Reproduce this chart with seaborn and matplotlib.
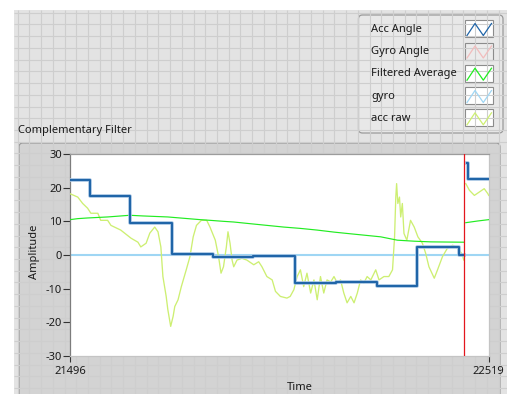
import numpy as np
import pandas as pd
import matplotlib
matplotlib.use("Agg")
import matplotlib.pyplot as plt
import matplotlib.patheffects as pe
from matplotlib.patches import Rectangle, FancyBboxPatch
import seaborn as sns

plt.rcParams["font.family"] = ["Noto Sans", "DejaVu Sans"]

# ---- chart data -------------------------------------------------------------
t_start, t_end = 21496, 22519
sweep_t = 22459          # sweep line: data to its right is from the previous pass

series_names = ["Acc Angle", "Gyro Angle", "Filtered Average", "gyro", "acc raw"]
series_colors = ["#2065a8", "#f2bcbc", "#22ec22", "#9fd6f4", "#cdef72"]
series_visible = [True, False, True, True, True]

y_ticks = [-30, -20, -10, 0, 10, 20, 30]
x_ticks = [t_start, t_end]

# Acc Angle (held value, stepped)
acc_angle_t = [21496, 21544, 21642, 21745, 21846, 21944, 22045, 22145, 22245, 22345,
               22446, 22459]
acc_angle_v = [22.3, 17.6, 9.6, 0.4, -0.5, -0.2, -8.4, -8.1, -9.2, 2.3,
               0.0, 0.0]
acc_angle_old_t = [22465, 22469, 22519]
acc_angle_old_v = [27.2, 22.5, 22.5]

# Filtered Average
filt_t = [21496, 21515, 21539, 21588, 21642, 21674, 21735, 21814, 21838, 21871,
          21896, 21928, 21977, 22018, 22059, 22100, 22141, 22173, 22214, 22255,
          22296, 22337, 22378, 22458]
filt_v = [10.5, 10.8, 11.0, 11.3, 11.8, 11.6, 11.3, 10.5, 10.3, 10.0,
          9.8, 9.4, 8.8, 8.3, 7.9, 7.4, 6.8, 6.4, 5.9, 5.4,
          4.4, 4.1, 3.9, 3.8]
filt_old_t = [22463, 22492, 22519]
filt_old_v = [9.6, 10.1, 10.5]

# gyro
gyro_t = [21496, 22519]
gyro_v = [0.0, 0.0]

# acc raw
acc_raw_t = [21496, 21515, 21527, 21539, 21547, 21564, 21571, 21588, 21596, 21620,
             21645, 21662, 21669, 21682, 21691, 21703, 21711, 21718, 21723, 21731,
             21735, 21742, 21748, 21752, 21760, 21768, 21780, 21789, 21797, 21805,
             21817, 21830, 21838, 21851, 21859, 21865, 21871, 21878, 21882, 21887,
             21892, 21896, 21904, 21916, 21928, 21945, 21957, 21965, 21977, 21990,
             21998, 22010, 22026, 22034, 22043, 22051, 22059, 22067, 22075, 22084,
             22092, 22100, 22108, 22116, 22124, 22133, 22141, 22149, 22157, 22165,
             22173, 22182, 22190, 22198, 22206, 22214, 22222, 22231, 22243, 22251,
             22263, 22275, 22284, 22289, 22292, 22294, 22297, 22301, 22304, 22308,
             22312, 22319, 22328, 22337, 22346, 22357, 22365, 22373, 22386, 22394,
             22406, 22418, 22431, 22439, 22447, 22455, 22458]
acc_raw_v = [18.2, 17.2, 15.3, 13.9, 12.4, 12.4, 10.3, 10.3, 8.8, 7.4,
             5.0, 3.8, 2.4, 3.5, 6.5, 8.3, 6.9, 2.4, -6.4, -12.3,
             -16.2, -21.2, -18.2, -15.3, -13.3, -9.4, -4.4, -0.5, 5.4, 8.8,
             10.3, 10.3, 8.3, 4.4, -0.5, -5.4, -3.5, 2.4, 6.9, 3.5,
             -1.5, -3.5, -1.5, -1.0, -1.5, -2.9, -2.0, -3.5, -6.4, -7.4,
             -10.8, -12.3, -12.8, -12.3, -10.3, -6.4, -4.4, -9.4, -5.4, -11.3,
             -7.4, -13.3, -6.4, -11.3, -7.4, -8.0, -6.4, -8.3, -7.4, -11.3,
             -14.2, -12.3, -14.2, -11.3, -7.4, -8.3, -6.4, -7.4, -4.4, -7.4,
             -6.4, -6.4, -4.4, 5.4, 17.2, 21.2, 15.3, 17.2, 11.3, 15.3,
             6.4, 4.4, 10.3, 8.3, 5.4, 3.5, 0.5, -3.5, -6.9, -4.4,
             -0.5, 2.0, 2.9, 2.4, 1.5, 0.0, -1.5]
acc_raw_old_t = [22463, 22472, 22484, 22496, 22508, 22517, 22519]
acc_raw_old_v = [21.2, 19.2, 17.7, 18.7, 19.7, 18.2, 17.7]


def frame(t_new, v_new, t_old=(), v_old=()):
    return pd.DataFrame({
        "t": list(t_new) + list(t_old),
        "v": list(v_new) + list(v_old),
        "seg": [0] * len(t_new) + [1] * len(t_old),
    })


# ---- figure layout (pixel coordinates on a full-figure layer) ---------------
W, H = 507, 394
FS = 8
TXT = "#1a1a1a"
fig = plt.figure(figsize=(W / 100, H / 100), dpi=100)
fig.patch.set_facecolor("white")

bg = fig.add_axes([0, 0, 1, 1], zorder=0)
bg.set_xlim(0, W)
bg.set_ylim(H, 0)
bg.axis("off")

# gridded front-panel background
bg.add_patch(Rectangle((14, 10), W - 14, H - 10, facecolor="#e3e3e3", edgecolor="none"))
bg.vlines(np.arange(17.6, W, 11.73), 10, H, color="#cecece", lw=0.8)
bg.hlines(np.arange(12.7, H, 11.73), 14, W, color="#cecece", lw=0.8)

# chart panel
bg.add_patch(FancyBboxPatch((19, 143), 481, 270, boxstyle="round,pad=0,rounding_size=4",
                            facecolor="#d3d3d3", edgecolor="#9a9a9a", lw=0.9))
bg.text(18, 131, "Complementary Filter", fontsize=FS, color=TXT, va="center", ha="left")

# plot legend box
bg.add_patch(FancyBboxPatch((358.5, 15), 144.5, 118, boxstyle="round,pad=0,rounding_size=4",
                            facecolor="#e8e8e8", edgecolor="#9a9a9a", lw=0.9))
row_y = [29, 51.5, 73.7, 96, 118.3]
for name, col, vis, y in zip(series_names, series_colors, series_visible, row_y):
    bg.text(371, y, name, fontsize=FS, color=TXT, va="center", ha="left")
    bg.add_patch(Rectangle((465, y - 9), 28, 17, facecolor="white" if vis else "#ececec",
                           edgecolor="#8c8c8c", lw=0.8))
    bg.plot([467, 475, 483.3, 491.5], [y + 6.5, y - 5.5, y + 6.5, y - 5.5], color=col, lw=0.9)

# axis titles
bg.text(300, 387, "Time", fontsize=FS, color=TXT, ha="center", va="center")
bg.text(34, 252, "Amplitude", fontsize=FS, color=TXT, ha="center", va="center",
        rotation=90)

# ---- plot area ---------------------------------------------------------------
ax = fig.add_axes([70 / W, 1 - 356 / H, (488.7 - 70) / W, (356 - 154) / H], zorder=2)
ax.set_facecolor("white")

sns.lineplot(data=frame(gyro_t, gyro_v), x="t", y="v", units="seg", estimator=None,
             sort=False, color=series_colors[3], lw=1.5, ax=ax, legend=False, zorder=2)
sns.lineplot(data=frame(acc_raw_t, acc_raw_v, acc_raw_old_t, acc_raw_old_v), x="t", y="v",
             units="seg", estimator=None, sort=False, color=series_colors[4], lw=0.95,
             ax=ax, legend=False, zorder=3)
sns.lineplot(data=frame(filt_t, filt_v, filt_old_t, filt_old_v), x="t", y="v",
             units="seg", estimator=None, sort=False, color=series_colors[2], lw=0.85,
             ax=ax, legend=False, zorder=4)
sns.lineplot(data=frame(acc_angle_t, acc_angle_v, acc_angle_old_t, acc_angle_old_v),
             x="t", y="v", units="seg", estimator=None, sort=False,
             color=series_colors[0], lw=1.5, drawstyle="steps-post",
             ax=ax, legend=False, zorder=5,
             path_effects=[pe.Stroke(linewidth=2.6, foreground="#a9c6e4"), pe.Normal()])

ax.axvline(sweep_t, color="#e3161d", lw=0.9, zorder=6)

ax.set_xlim(t_start, t_end)
ax.set_ylim(-30, 30)
ax.set_xticks(x_ticks)
ax.set_xticklabels([str(v) for v in x_ticks])
ax.set_yticks(y_ticks)
ax.set_yticklabels([str(v) for v in y_ticks])
ax.set_xlabel("")
ax.set_ylabel("")
ax.grid(False)
ax.tick_params(axis="y", direction="out", length=5, width=0.8, color="#333333",
               labelsize=FS, labelcolor=TXT, pad=1)
ax.tick_params(axis="x", direction="out", length=4, width=0.8, color="#333333",
               labelsize=FS, labelcolor=TXT, pad=3)
for side, col in [("left", "#7c7c7c"), ("top", "#9c9c9c"),
                  ("right", "#c4c4c4"), ("bottom", "#c4c4c4")]:
    ax.spines[side].set_color(col)
    ax.spines[side].set_linewidth(0.9)

fig.savefig("out.png", dpi=100)
